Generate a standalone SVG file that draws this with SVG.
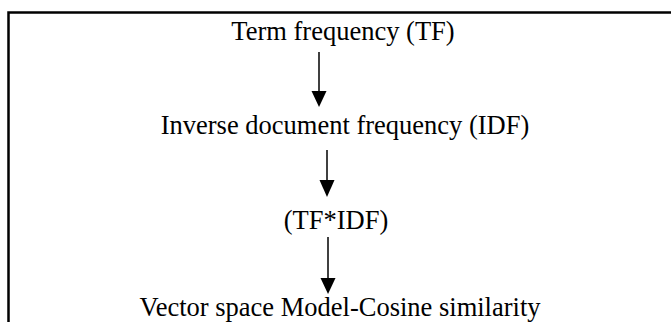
<svg xmlns="http://www.w3.org/2000/svg" width="671" height="322" viewBox="0 0 671 322">
<style>
text{font-family:"Liberation Serif","Times New Roman",serif;font-size:26.5px;fill:#000;text-anchor:middle}
.c line{stroke:#000;stroke-width:1.5}
.c path{fill:#000}
</style>
<rect width="671" height="322" fill="#fff"/>
<g id="frame" stroke="#000" stroke-width="2.5" fill="none">
<path d="M8.5,322 V12.5 H671"/>
</g>
<g id="n1"><text x="343" y="40">Term frequency (TF)</text></g>
<g id="n2"><text x="345" y="134">Inverse document frequency (IDF)</text></g>
<g id="n3"><text x="336" y="229">(TF*IDF)</text></g>
<g id="n4"><text x="340" y="316">Vector space Model-Cosine similarity</text></g>
<g id="connectors" class="c">
<line x1="319" y1="52" x2="319" y2="92"/><path d="M311.5,91 H326.5 L319,107 Z"/>
<line x1="327" y1="150" x2="327" y2="181"/><path d="M319.5,180 H334.5 L327,197 Z"/>
<line x1="328" y1="237" x2="328" y2="279"/><path d="M320.5,278 H335.5 L328,294 Z"/>
</g>
</svg>
